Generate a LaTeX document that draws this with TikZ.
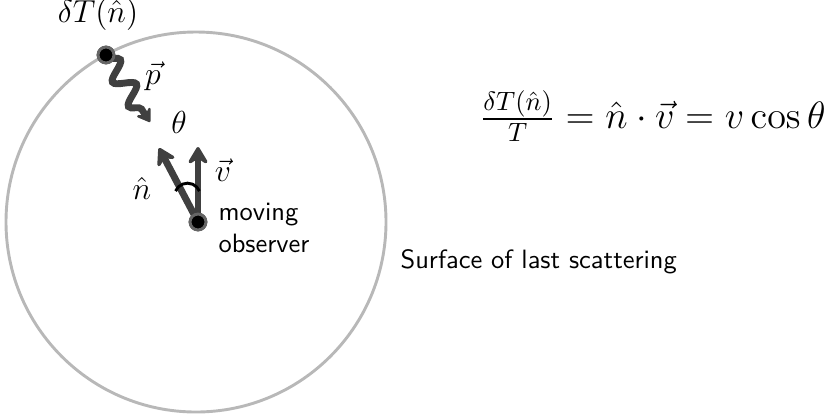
\documentclass[tikz,border=0pt]{standalone}
\usepackage{amsmath}
\usetikzlibrary{arrows.meta,decorations.pathmorphing}
\begin{document}
\begin{tikzpicture}[x=0.3774pt,y=-0.3774pt,
  surf/.style={draw=black!28,line width=1.1pt},
  vec/.style={draw=black!75,line width=2.6pt,-{Stealth[length=8pt,width=9.5pt,inset=3pt,round]}},
  dotnode/.style={circle,fill=black,draw=black!60,line width=1.1pt,inner sep=0pt,minimum size=6pt},
  lab/.style={font=\large,inner sep=1pt},
  txt/.style={font=\sffamily,inner sep=0pt}]
\useasboundingbox (0,0) rectangle (826,419);
\coordinate (c) at (196,222);
\draw[surf] (c) circle[radius=190pt*0.3774];
\node[dotnode] (obs) at (198,222) {};
\node[dotnode] (src) at (106,55) {};
\coordinate (vtip) at (198,147);
\coordinate (ntip) at (159,148);
\coordinate (ptip) at (150,122);
\draw[vec] (obs.center) -- (vtip);
\draw[vec] (obs.center) -- (ntip);
\draw[black,line width=1.1pt] (187.5,186) ++(157:13) arc[start angle=157,end angle=23,radius=13pt*0.3774];
\draw[draw=black!75,line width=2.6pt,-{Stealth[length=6pt,width=8pt,inset=2.5pt,round]},
  decorate,decoration={snake,amplitude=3.6pt,segment length=11pt,post length=3pt,pre length=1pt}]
  (src.center) -- (ptip);
\node[dotnode] at (src) {};
\node[dotnode] at (obs) {};
\node[lab] (dT) at (98,15) {$\delta T(\hat n)$};
\node[lab] (p) at (153,76) {$\vec p$};
\node[lab] (th) at (179,122) {$\theta$};
\node[lab] (v) at (223,170) {$\vec v$};
\node[lab] (n) at (142,188) {$\hat n$};
\node[txt,align=left,anchor=north west] (mo) at (218,203) {moving\\observer};
\node[txt,anchor=west] (sls) at (400,262) {Surface of last scattering};
\node[anchor=east,inner sep=0pt,font=\Large] (eq) at (826,116) {$\frac{\delta T(\hat n)}{T}=\hat n\cdot\vec v=v\cos\theta$};
\end{tikzpicture}
\end{document}
